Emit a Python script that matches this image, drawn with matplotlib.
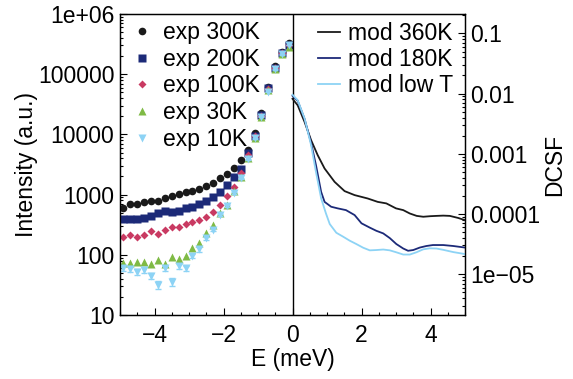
import matplotlib
matplotlib.use("Agg")
import matplotlib.pyplot as plt
from matplotlib.lines import Line2D
from matplotlib.ticker import FixedLocator, FixedFormatter, LogLocator, NullFormatter, MultipleLocator

plt.rcParams['font.family'] = ['Liberation Sans', 'DejaVu Sans']
plt.rcParams['font.size'] = 16.5

# ---- experimental data (left axis) ----
E_exp = [-4.9, -4.7, -4.5, -4.3, -4.1, -3.9, -3.7, -3.5, -3.3, -3.1, -2.9, -2.7, -2.5,
         -2.3, -2.1, -1.9, -1.7, -1.5, -1.3, -1.1, -0.9, -0.7, -0.5, -0.3, -0.1]
exp_300K = [600, 705, 710, 750, 770, 785, 885, 965, 1035, 1085, 1140, 1250, 1380,
            1540, 1870, 2200, 2730, 3760, 5500, 10400, 22400, 62000, 138000, 237000, 326000]
exp_200K = [390, 389, 394, 404, 441, 500, 534, 520, 540, 592, 630, 690, 783,
            923, 1117, 1443, 1982, 2630, 4850, 9400, 21000, 58300, 128000, 222000, 305000]
exp_100K = [198, 213, 200, 213, 251, 219, 258, 293, 293, 325, 355, 379, 430,
            520, 672, 948, 1353, 2310, 4550, 9400, 20200, 56100, 125000, 222000, 305000]
exp_30K = [74, 74, 76, 75, 69.5, 82, 70, 92, 84, 94, 130, 155, 230,
           313, 489, 672, 1160, 1982, 4010, 8600, 19700, 54700, 120000, 214000, 286000]
exp_10K = [60, 58.5, 52.4, 56.8, 44.5, 31.9, 59.7, 35.7, 64.4, 59.7, 95.5, 123, 188,
           262, 458, 647, 1076, 1867, 3855, 8610, 19700, 51200, 120000, 214000, 305000]
err_10K = [6, 6, 6, 6, 5, 5, 6, 5, 6, 6, 8, 10, 12,
           15, 20, 26, 36, 55, 90, 160, 320, 650, 1200, 2000, 2800]

# ---- model data (right axis) ----
E_360K = [0, 0.15, 0.35, 0.54, 0.73, 0.93, 1.22, 1.51, 1.8, 2.18, 2.47, 2.72, 3.0,
          3.21, 3.4, 3.6, 3.79, 4.0, 4.17, 4.37, 4.56, 4.8, 5.0]
mod_360K = [8.2e-3, 6.4e-3, 3.38e-3, 1.68e-3, 9.5e-4, 5.7e-4, 3.42e-4, 2.4e-4, 2.06e-4,
            1.81e-4, 1.59e-4, 1.5e-4, 1.24e-4, 1.16e-4, 1.02e-4, 9.3e-5, 9.0e-5, 9.2e-5,
            9.3e-5, 9.4e-5, 9.3e-5, 8.6e-5, 7.9e-5]
E_180K = [0, 0.15, 0.35, 0.54, 0.68, 0.83, 0.93, 1.12, 1.31, 1.55, 1.80, 2.0, 2.24,
          2.43, 2.63, 2.82, 3.01, 3.21, 3.35, 3.5, 3.69, 3.88, 4.07, 4.37, 4.66, 5.0]
mod_180K = [9.2e-3, 7.6e-3, 3.8e-3, 1.5e-3, 6.5e-4, 2.33e-4, 1.59e-4, 1.32e-4, 1.24e-4,
            1.16e-4, 9.6e-5, 7.0e-5, 5.94e-5, 5.26e-5, 4.76e-5, 3.98e-5, 3.17e-5, 2.67e-5,
            2.45e-5, 2.52e-5, 2.77e-5, 2.94e-5, 3.05e-5, 3.05e-5, 2.94e-5, 2.77e-5]
E_lowT = [0, 0.15, 0.35, 0.54, 0.68, 0.83, 0.97, 1.08, 1.27, 1.47, 1.66, 1.85, 2.05,
          2.24, 2.43, 2.63, 2.82, 3.01, 3.21, 3.40, 3.59, 3.79, 3.98, 4.17, 4.37, 4.66, 5.0]
mod_lowT = [9.6e-3, 7.75e-3, 3.85e-3, 1.39e-3, 5.0e-4, 1.82e-4, 1.02e-4, 6.8e-5, 4.88e-5,
            4.19e-5, 3.6e-5, 3.17e-5, 2.75e-5, 2.49e-5, 2.52e-5, 2.57e-5, 2.49e-5, 2.31e-5,
            2.12e-5, 2.12e-5, 2.31e-5, 2.59e-5, 2.69e-5, 2.67e-5, 2.54e-5, 2.33e-5, 2.16e-5]

left_ticks = [10, 100, 1000, 10000, 100000, 1000000]
left_labels = ['10', '100', '1000', '10000', '100000', '1e+06']
right_ticks = [1e-5, 1e-4, 1e-3, 1e-2, 1e-1]
right_labels = ['1e\u221205', '0.0001', '0.001', '0.01', '0.1']
x_ticks = [-4, -2, 0, 2, 4]
x_labels = ['\u22124', '\u22122', '0', '2', '4']

c_black = '#1a1a1a'
c_navy = '#1c2a78'
c_red = '#c93a62'
c_green = '#7fba45'
c_lblue = '#8dd3f5'

fig = plt.figure(figsize=(5.73, 3.79), dpi=100)
ax = fig.add_axes([120/573, 1-315/379, 345/573, 301/379])
ax2 = ax.twinx()

ms = 5.5
ax.plot(E_exp, exp_300K, 'o', color=c_black, ms=ms, mec='none', zorder=3)
ax.plot(E_exp, exp_200K, 's', color=c_navy, ms=ms - 0.3, mec='none', zorder=3)
ax.plot(E_exp, exp_100K, 'D', color=c_red, ms=4.5, mec='none', zorder=3)
ax.plot(E_exp, exp_30K, '^', color=c_green, ms=ms + 0.5, mec='none', zorder=3)
ax.errorbar(E_exp, exp_10K, yerr=err_10K, fmt='v', color=c_lblue, ms=ms + 0.5, mec='none',
            ecolor=c_lblue, elinewidth=1, capsize=2.5, capthick=1, zorder=4)

ax.axvline(0, color='black', lw=1.0, zorder=5)

ax2.plot(E_360K, mod_360K, '-', color=c_black, lw=1.3)
ax2.plot(E_180K, mod_180K, '-', color=c_navy, lw=1.3)
ax2.plot(E_lowT, mod_lowT, '-', color=c_lblue, lw=1.3)

ax.set_xlim(-5, 5)
ax.set_yscale('log')
ax.set_ylim(10, 1e6)
ax2.set_yscale('log')
ax2.set_ylim(2.1e-6, 0.21)

ax.yaxis.set_major_locator(FixedLocator(left_ticks))
ax.yaxis.set_major_formatter(FixedFormatter(left_labels))
ax.yaxis.set_minor_locator(LogLocator(base=10, subs=range(2, 10), numticks=20))
ax.yaxis.set_minor_formatter(NullFormatter())
ax2.yaxis.set_major_locator(FixedLocator(right_ticks))
ax2.yaxis.set_major_formatter(FixedFormatter(right_labels))
ax2.yaxis.set_minor_locator(LogLocator(base=10, subs=range(2, 10), numticks=20))
ax2.yaxis.set_minor_formatter(NullFormatter())
ax.xaxis.set_major_locator(FixedLocator(x_ticks))
ax.xaxis.set_major_formatter(FixedFormatter(x_labels))
ax.xaxis.set_minor_locator(MultipleLocator(0.5))

for a in (ax, ax2):
    a.tick_params(which='major', direction='in', length=5, width=0.8, pad=4)
    a.tick_params(which='minor', direction='in', length=2.5, width=0.8)
    for s in a.spines.values():
        s.set_linewidth(0.9)
ax.tick_params(axis='x', which='major', pad=6.5)

ax.set_xlabel('E (meV)', labelpad=1)
ax.set_ylabel('Intensity (a.u.)', labelpad=0)
ax2.set_ylabel('DCSF', labelpad=2)

h_left = [Line2D([], [], ls='none', marker='o', color=c_black, ms=ms, mec='none'),
          Line2D([], [], ls='none', marker='s', color=c_navy, ms=ms - 0.3, mec='none'),
          Line2D([], [], ls='none', marker='D', color=c_red, ms=4.5, mec='none'),
          Line2D([], [], ls='none', marker='^', color=c_green, ms=ms + 0.5, mec='none'),
          Line2D([], [], ls='none', marker='v', color=c_lblue, ms=ms + 0.5, mec='none')]
l_left = ['exp 300K', 'exp 200K', 'exp 100K', 'exp 30K', 'exp 10K']
leg1 = ax2.legend(h_left, l_left, loc='upper left', bbox_to_anchor=(0.0377, 0.977),
                  frameon=False, borderaxespad=0, borderpad=0, handlelength=0.79,
                  handletextpad=0.52, labelspacing=0.16)
h_right = [Line2D([], [], color=c_black, lw=1.3),
           Line2D([], [], color=c_navy, lw=1.3),
           Line2D([], [], color=c_lblue, lw=1.3)]
l_right = ['mod 360K', 'mod 180K', 'mod low T']
leg2 = ax2.legend(h_right, l_right, loc='upper left', bbox_to_anchor=(0.574, 0.972),
                  frameon=False, borderaxespad=0, borderpad=0, handlelength=0.96,
                  handletextpad=0.35, labelspacing=0.12)
ax2.add_artist(leg1)

fig.savefig('out.png', dpi=100)
